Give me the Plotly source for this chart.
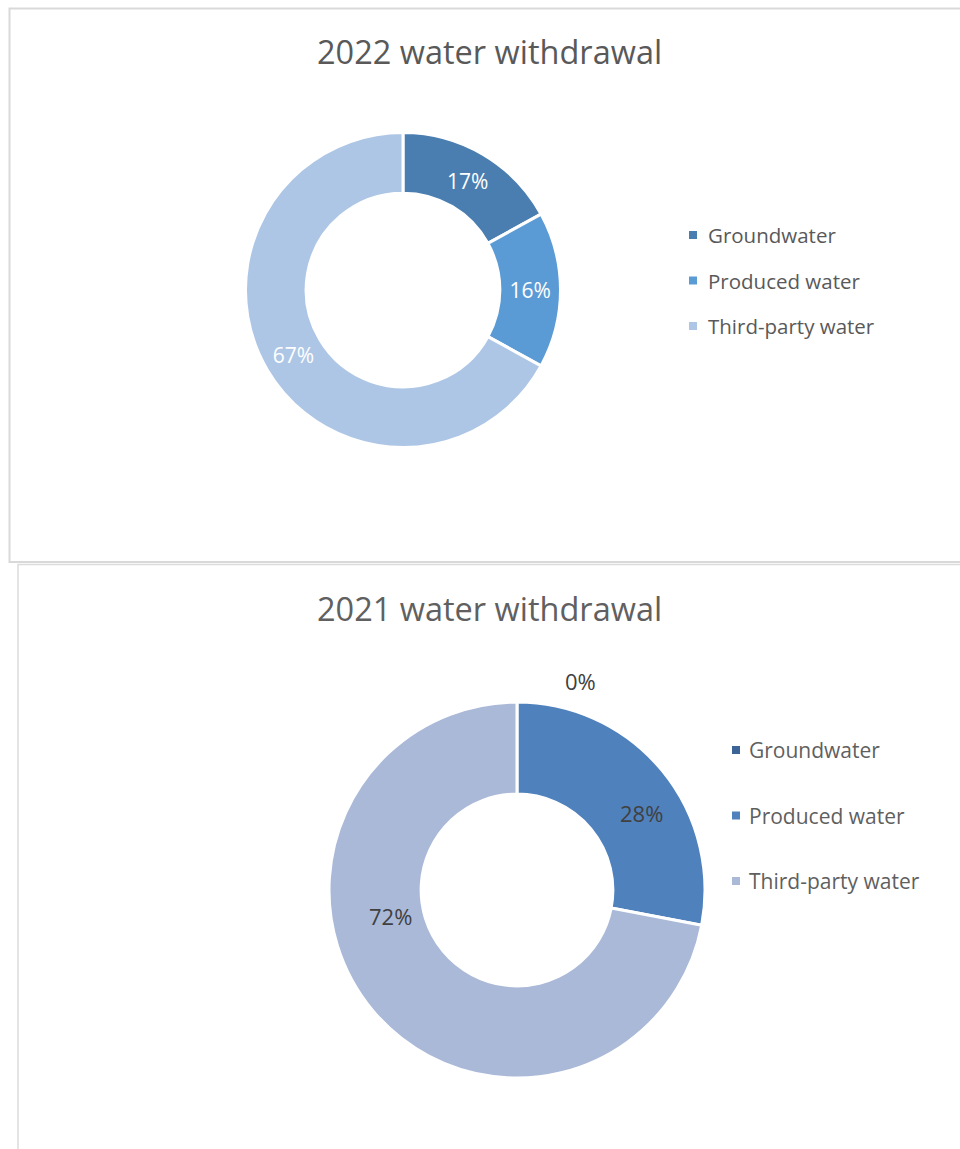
import plotly.graph_objects as go

# Water withdrawal by source, percent of total
categories = ["Groundwater", "Produced water", "Third-party water"]
share_2022 = [17, 16, 67]
share_2021 = [0, 28, 72]

colors_2022 = ["#4a7eb0", "#5b9bd5", "#adc6e5"]
colors_2021 = ["#3d6699", "#4f81bd", "#aab9d8"]
legend_colors_2021 = ["#3c6496", "#4f81bd", "#aab9d8"]

W, H = 960, 1149


def px(x):
    return x / W


def py(y):
    return 1 - y / H


def dom(cx, cy, r):
    return dict(x=[px(cx - r), px(cx + r)], y=[py(cy + r), py(cy - r)])


fig = go.Figure()

fig.add_trace(go.Pie(
    labels=categories, values=share_2022, hole=0.615, sort=False,
    direction="clockwise", rotation=0,
    marker=dict(colors=colors_2022, line=dict(color="white", width=3)),
    textinfo="percent", texttemplate="%{value}%", textposition="inside",
    insidetextorientation="horizontal",
    textfont=dict(family="Open Sans", size=21, color="white"),
    domain=dom(403, 290, 157.5), showlegend=False, hoverinfo="label+percent",
))

fig.add_trace(go.Pie(
    labels=categories, values=share_2021, hole=0.51, sort=False,
    direction="clockwise", rotation=0,
    marker=dict(colors=colors_2021, line=dict(color="white", width=3)),
    textinfo="none",
    domain=dom(517, 890, 188), showlegend=False, hoverinfo="label+percent",
))

shapes = [
    dict(type="rect", xref="paper", yref="paper",
         x0=px(9.5), y0=py(562), x1=px(975), y1=py(8.5),
         line=dict(color="#d9d9d9", width=2), layer="below"),
    dict(type="rect", xref="paper", yref="paper",
         x0=px(18), y0=py(1165), x1=px(975), y1=py(564.5),
         line=dict(color="#dcdcdc", width=1.5), layer="below"),
]

annotations = [
    dict(text="2022 water withdrawal", x=px(490), y=py(52), xref="paper", yref="paper",
         showarrow=False, xanchor="center", yanchor="middle",
         font=dict(family="Open Sans", size=32.5, color="#595959")),
    dict(text="2021 water withdrawal", x=px(490), y=py(608), xref="paper", yref="paper",
         showarrow=False, xanchor="center", yanchor="middle",
         font=dict(family="Open Sans", size=32.5, color="#606060")),
]

# Legends drawn as small squares with labels
for i, (name, col) in enumerate(zip(categories, colors_2022)):
    yc = 235 + i * 45.5
    shapes.append(dict(type="rect", xref="paper", yref="paper",
                       x0=px(689), x1=px(697), y0=py(yc + 4), y1=py(yc - 4),
                       fillcolor=col, line=dict(width=0)))
    annotations.append(dict(text=name, x=px(706), y=py(yc), xref="paper", yref="paper",
                            showarrow=False, xanchor="left", yanchor="middle",
                            font=dict(family="Open Sans", size=20.5, color="#595959")))

for i, (name, col) in enumerate(zip(categories, legend_colors_2021)):
    yc = 750 + i * 65.5
    shapes.append(dict(type="rect", xref="paper", yref="paper",
                       x0=px(732), x1=px(740), y0=py(yc + 4), y1=py(yc - 4),
                       fillcolor=col, line=dict(width=0)))
    annotations.append(dict(text=name, x=px(747), y=py(yc), xref="paper", yref="paper",
                            showarrow=False, xanchor="left", yanchor="middle",
                            font=dict(family="Open Sans", size=21, color="#5f5f5f")))

# Data labels for the 2021 ring
label_pos_2021 = [(580, 681), (641, 813), (390, 916)]
for v, (lx, ly) in zip(share_2021, label_pos_2021):
    annotations.append(dict(text=f"{v}%", x=px(lx), y=py(ly), xref="paper", yref="paper",
                            showarrow=False, xanchor="center", yanchor="middle",
                            font=dict(family="Open Sans", size=22, color="#404040")))

fig.update_layout(
    width=W, height=H, margin=dict(l=0, r=0, t=0, b=0),
    paper_bgcolor="white", plot_bgcolor="white",
    shapes=shapes, annotations=annotations,
    uniformtext=dict(minsize=21, mode="show"),
)

fig.write_html("out.html")
